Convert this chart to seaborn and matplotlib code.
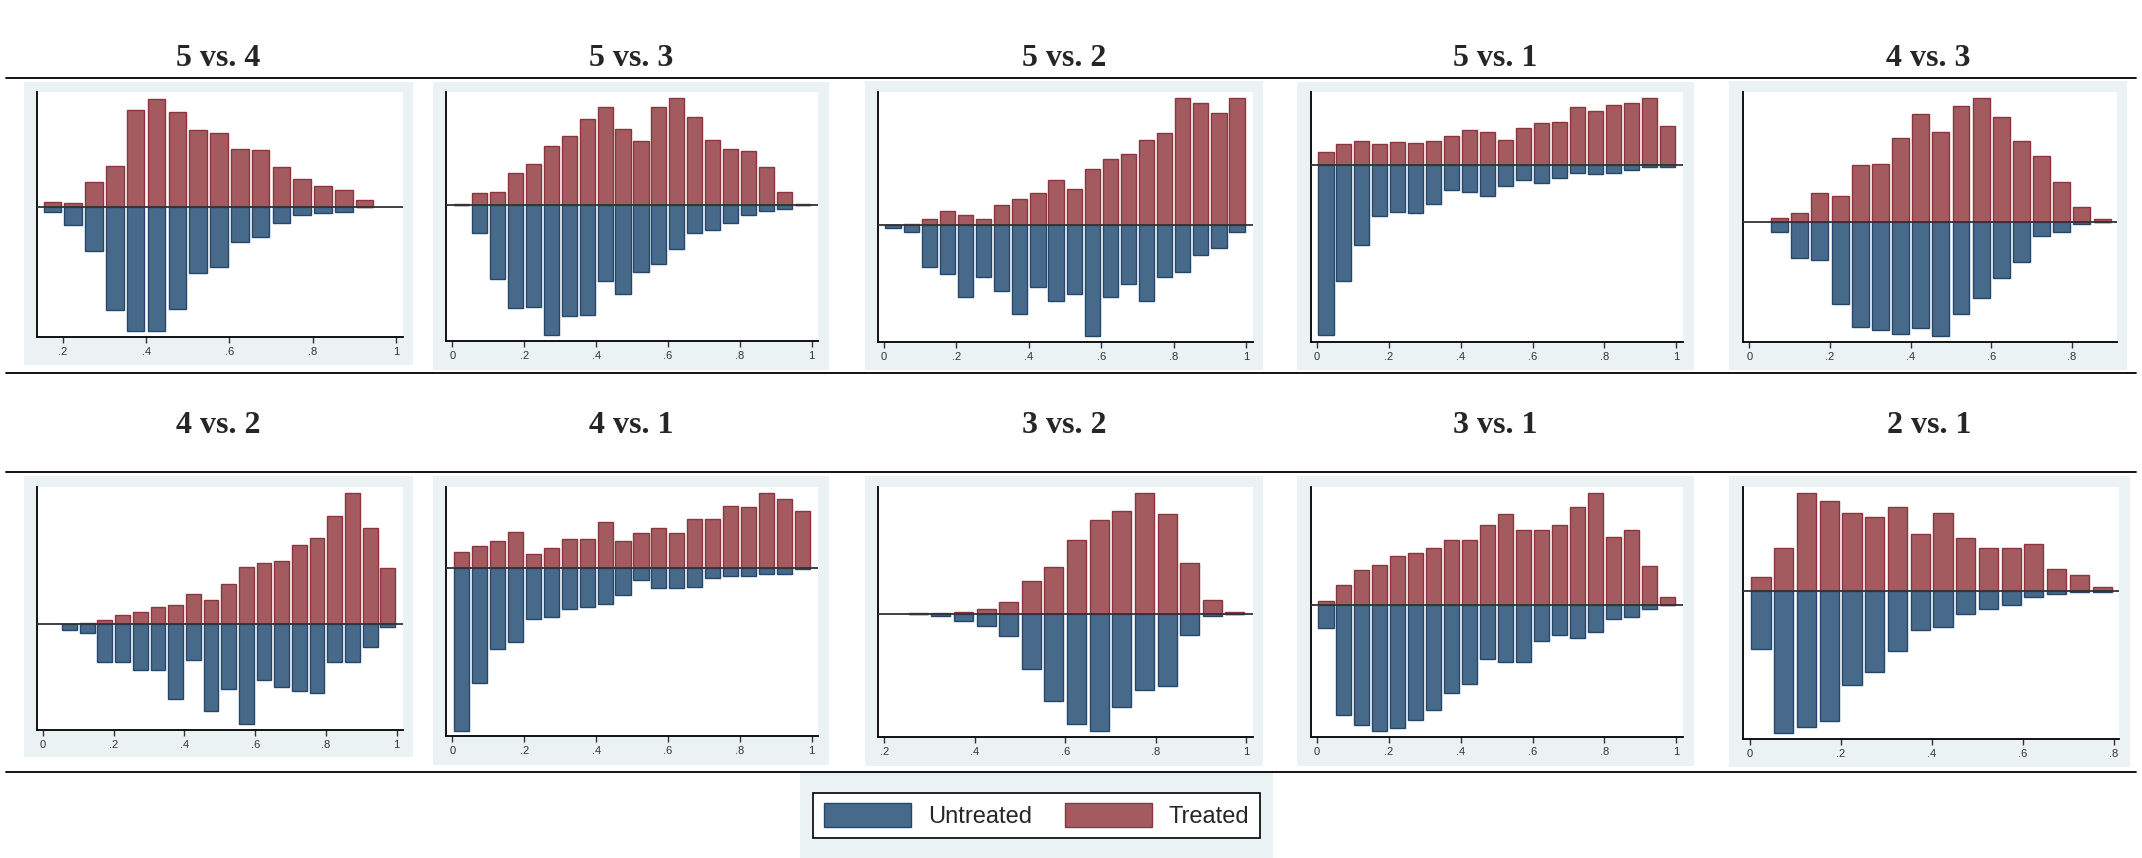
import matplotlib
matplotlib.use("Agg")
import matplotlib.pyplot as plt
import seaborn as sns
import pandas as pd
from matplotlib.lines import Line2D
from matplotlib.patches import Patch

# bin midpoints of the propensity score histograms
bin_mid = [0.025, 0.075, 0.125, 0.175, 0.225, 0.275, 0.325, 0.375, 0.425, 0.475,
           0.525, 0.575, 0.625, 0.675, 0.725, 0.775, 0.825, 0.875, 0.925, 0.975]

titles = ["5 vs. 4", "5 vs. 3", "5 vs. 2", "5 vs. 1", "4 vs. 3",
          "4 vs. 2", "4 vs. 1", "3 vs. 2", "3 vs. 1", "2 vs. 1"]

# index of the first bin shown in each panel
first_bin = [3, 0, 0, 0, 1, 1, 0, 5, 0, 0]

treated = [
    [13, 10, 73, 123, 290, 325, 286, 230, 222, 175, 172, 120, 83, 61, 49, 19],
    [5, 36, 40, 97, 124, 177, 207, 260, 295, 229, 194, 295, 322, 265, 195, 168, 164, 115, 40, 5],
    [0, 5, 18, 44, 30, 18, 61, 78, 96, 135, 108, 170, 200, 213, 256, 279, 382, 369, 339, 382],
    [39, 63, 73, 63, 70, 67, 73, 88, 106, 100, 75, 111, 127, 130, 174, 162, 181, 186, 201, 117],
    [12, 27, 86, 78, 171, 174, 252, 323, 270, 348, 370, 314, 241, 197, 119, 45, 8],
    [0, 4, 13, 27, 36, 50, 56, 91, 72, 121, 171, 184, 190, 236, 259, 324, 394, 289, 168],
    [46, 64, 79, 108, 40, 60, 87, 87, 137, 79, 105, 119, 105, 145, 145, 185, 182, 224, 206, 171],
    [3, 3, 6, 18, 39, 101, 144, 225, 283, 310, 366, 301, 154, 45, 6],
    [14, 62, 107, 122, 148, 158, 173, 196, 196, 240, 274, 225, 225, 240, 295, 337, 206, 225, 118, 26],
    [42, 129, 294, 269, 235, 223, 252, 170, 235, 159, 129, 129, 141, 65, 48, 13],
]

untreated = [
    [15, 56, 133, 311, 375, 375, 309, 200, 180, 107, 91, 48, 26, 20, 15, 0],
    [0, 82, 219, 308, 305, 388, 331, 329, 225, 265, 199, 175, 130, 82, 73, 53, 29, 18, 10, 0],
    [7, 21, 126, 147, 215, 155, 199, 266, 185, 229, 206, 332, 215, 177, 229, 155, 141, 89, 68, 21],
    [509, 346, 238, 151, 141, 144, 115, 73, 81, 91, 61, 45, 52, 37, 23, 26, 24, 15, 4, 6],
    [31, 108, 116, 248, 317, 326, 337, 319, 342, 277, 229, 168, 121, 43, 31, 6, 0],
    [19, 26, 113, 113, 137, 137, 225, 107, 261, 194, 300, 169, 188, 200, 207, 113, 113, 69, 8],
    [490, 348, 246, 225, 155, 148, 125, 117, 109, 83, 38, 60, 60, 57, 30, 24, 24, 19, 19, 5],
    [0, 6, 20, 34, 66, 164, 261, 328, 350, 279, 228, 215, 62, 6, 0],
    [68, 330, 360, 378, 367, 343, 313, 262, 235, 161, 169, 169, 107, 88, 97, 81, 42, 34, 10, 0],
    [175, 426, 408, 391, 283, 242, 180, 118, 108, 68, 54, 41, 19, 9, 4, 4],
]

xticks = [
    [0.2, 0.4, 0.6, 0.8, 1], [0, 0.2, 0.4, 0.6, 0.8, 1], [0, 0.2, 0.4, 0.6, 0.8, 1],
    [0, 0.2, 0.4, 0.6, 0.8, 1], [0, 0.2, 0.4, 0.6, 0.8],
    [0, 0.2, 0.4, 0.6, 0.8, 1], [0, 0.2, 0.4, 0.6, 0.8, 1], [0.2, 0.4, 0.6, 0.8, 1],
    [0, 0.2, 0.4, 0.6, 0.8, 1], [0, 0.2, 0.4, 0.6, 0.8],
]

legend_labels = ["Untreated", "Treated"]

# layout in pixels: background box, plot box, axis limits
W, H = 2142, 858
layout = [
    dict(bg=(24, 82, 413, 365), ax=(37, 92, 403, 337), xlim=(0.138, 1.017), ylim=(-392, 345)),
    dict(bg=(433, 82, 829, 370), ax=(446, 92, 818, 341), xlim=(-0.0176, 1.0176), ylim=(-406, 340)),
    dict(bg=(865, 81, 1263, 370), ax=(878, 92, 1253, 342), xlim=(-0.0166, 1.019), ylim=(-351, 401)),
    dict(bg=(1297, 82, 1694, 370), ax=(1311, 92, 1683, 342), xlim=(-0.0167, 1.0185), ylim=(-529, 219)),
    dict(bg=(1729, 81, 2127, 370), ax=(1743, 92, 2117, 342), xlim=(-0.0157, 0.912), ylim=(-361, 389)),
    dict(bg=(24, 476, 413, 757), ax=(37, 487, 403, 730), xlim=(-0.017, 1.018), ylim=(-318, 411)),
    dict(bg=(433, 476, 829, 765), ax=(446, 487, 818, 736), xlim=(-0.0176, 1.0176), ylim=(-506, 242)),
    dict(bg=(865, 476, 1263, 766), ax=(878, 487, 1253, 737), xlim=(0.186, 1.015), ylim=(-368, 383)),
    dict(bg=(1297, 476, 1694, 766), ax=(1311, 487, 1683, 737), xlim=(-0.0167, 1.0185), ylim=(-395, 355)),
    dict(bg=(1729, 476, 2130, 767), ax=(1743, 487, 2119, 739), xlim=(-0.0146, 0.812), ylim=(-444, 312)),
]
title_y = [59, 59, 59, 59, 59, 426, 426, 426, 426, 426]

BG = "#eaf2f3"
RED, RED_EDGE = "#a45b60", "#8e3440"
BLUE, BLUE_EDGE = "#476a8a", "#24476b"


def box(x0, y0, x1, y1):
    return [x0 / W, 1 - y1 / H, (x1 - x0) / W, (y1 - y0) / H]


def stata_fmt(v):
    if v == 0:
        return "0"
    if v == 1:
        return "1"
    return f"{v:.1f}".lstrip("0")


sns.set_style("white")
plt.rcParams["font.family"] = ["Liberation Sans", "DejaVu Sans"]
fig = plt.figure(figsize=(W / 100, H / 100), dpi=100, facecolor="white")

for i in range(10):
    lay = layout[i]
    bga = fig.add_axes(box(*lay["bg"]))
    bga.set_facecolor(BG)
    bga.set_xticks([])
    bga.set_yticks([])
    for s in bga.spines.values():
        s.set_visible(False)

    ax = fig.add_axes(box(*lay["ax"]))
    n = len(treated[i])
    xs = bin_mid[first_bin[i]:first_bin[i] + n]
    df = pd.DataFrame({"x": xs, "Treated": treated[i],
                       "Untreated": [-v for v in untreated[i]]})
    sns.barplot(data=df, x="x", y="Treated", native_scale=True, color=RED,
                saturation=1, width=0.84, errorbar=None, edgecolor=RED_EDGE,
                linewidth=1, ax=ax)
    sns.barplot(data=df, x="x", y="Untreated", native_scale=True, color=BLUE,
                saturation=1, width=0.84, errorbar=None, edgecolor=BLUE_EDGE,
                linewidth=1, ax=ax)
    ax.axhline(0, color="#333333", lw=1.3, zorder=5)
    ax.set_xlim(*lay["xlim"])
    ax.set_ylim(*lay["ylim"])
    ax.set_xticks(xticks[i])
    ax.set_xticklabels([stata_fmt(v) for v in xticks[i]])
    ax.set_yticks([])
    ax.set_xlabel("")
    ax.set_ylabel("")
    ax.set_facecolor("white")
    ax.spines["top"].set_visible(False)
    ax.spines["right"].set_visible(False)
    ax.spines["left"].set_color("black")
    ax.spines["bottom"].set_color("black")
    ax.spines["left"].set_linewidth(1.3)
    ax.spines["bottom"].set_linewidth(1.3)
    ax.tick_params(axis="x", bottom=True, length=4, width=1, pad=3,
                   labelsize=8, labelcolor="#333333", color="#333333")

    cx = (lay["bg"][0] + lay["bg"][2]) / 2
    fig.text(cx / W, 1 - title_y[i] / H, titles[i], ha="center", va="center",
             fontsize=23, fontweight="bold", family="Liberation Serif")

for y in [78, 373, 472, 772]:
    fig.add_artist(Line2D([6 / W, 2136 / W], [1 - y / H, 1 - y / H],
                          color="black", lw=1.3))

lax = fig.add_axes(box(800, 773, 1273, 858))
lax.set_facecolor(BG)
lax.set_xticks([])
lax.set_yticks([])
for s in lax.spines.values():
    s.set_visible(False)
handles = [Patch(facecolor=BLUE, edgecolor=BLUE_EDGE, lw=1),
           Patch(facecolor=RED, edgecolor=RED_EDGE, lw=1)]
leg = lax.legend(handles, legend_labels, loc="center", ncol=2, frameon=True,
                 fancybox=False, edgecolor="black", facecolor="white", framealpha=1,
                 prop={"family": "Liberation Sans", "size": 17},
                 handlelength=3.7, handleheight=1.15, handletextpad=0.7,
                 columnspacing=1.4, borderpad=0.45)
leg.get_frame().set_linewidth(1.2)

fig.savefig("out.png", dpi=100, facecolor="white")
